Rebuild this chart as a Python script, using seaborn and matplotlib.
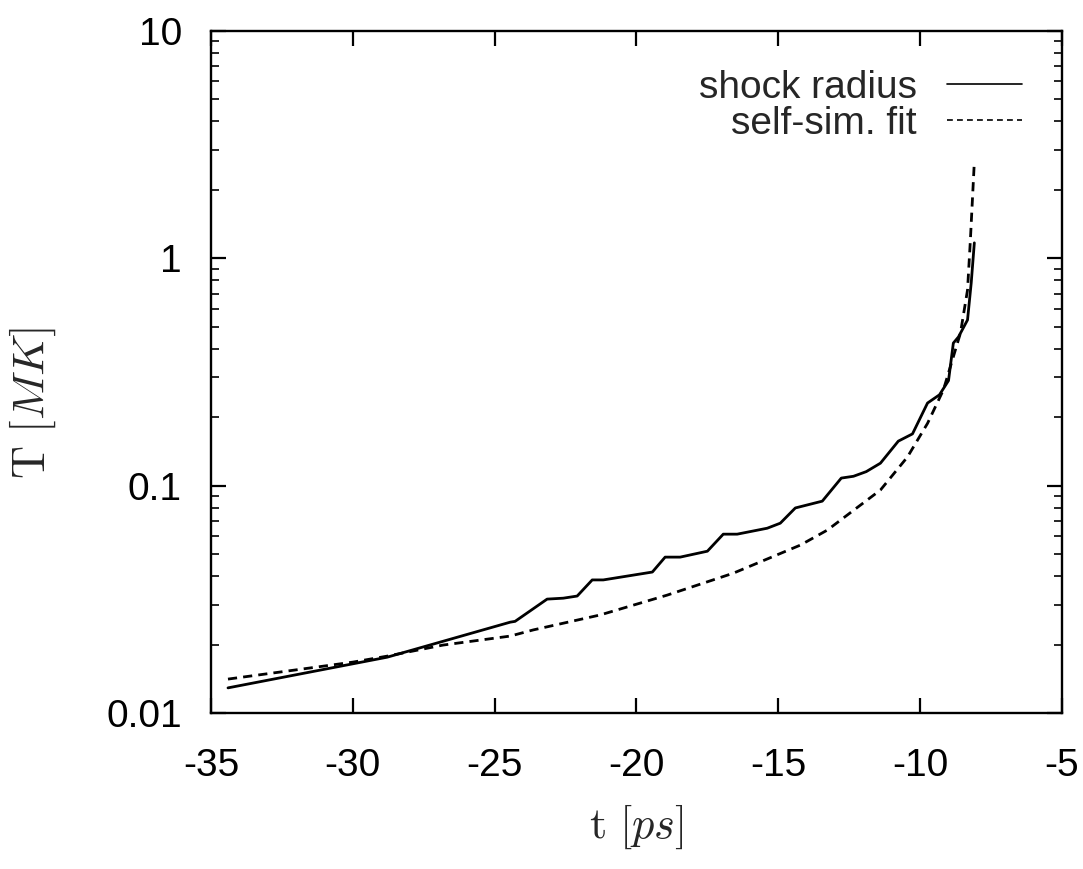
import matplotlib
matplotlib.use("Agg")
import matplotlib.pyplot as plt
import seaborn as sns
import pandas as pd
from matplotlib.ticker import LogLocator, NullFormatter, NullLocator

# Simulated shock temperature, t [ps] vs T [MK]
shock_t = [-34.40, -28.79, -24.45, -24.28, -23.15, -22.58, -22.09, -21.56, -21.17,
           -19.44, -18.99, -18.46, -17.50, -16.94, -16.45, -15.39, -14.93, -14.40,
           -13.45, -12.78, -12.35, -11.90, -11.40, -10.77, -10.27, -9.74, -9.32,
           -9.00, -8.83, -8.65, -8.33, -8.20, -8.09]
shock_T = [0.0129, 0.0176, 0.0251, 0.0253, 0.0317, 0.0320, 0.0327, 0.0385, 0.0385,
           0.0417, 0.0485, 0.0485, 0.0515, 0.0612, 0.0612, 0.0650, 0.0684, 0.0798,
           0.0855, 0.1080, 0.1100, 0.1153, 0.1256, 0.1570, 0.1690, 0.2310, 0.2510,
           0.2900, 0.4240, 0.4510, 0.5360, 0.7800, 1.1700]

# Self-similar fit
fit_t = [-34.40, -31.51, -29.99, -28.79, -26.82, -24.45, -23.64, -21.28, -18.92,
         -16.59, -14.22, -13.27, -11.40, -10.45, -9.74, -9.18, -8.58, -8.33,
         -8.23, -8.09]
fit_T = [0.0141, 0.01578, 0.01675, 0.01779, 0.0199, 0.0218, 0.0232, 0.0270, 0.0330,
         0.0412, 0.0548, 0.0638, 0.0957, 0.1336, 0.188, 0.264, 0.469, 0.726,
         1.20, 2.66]

x_ticks = [-35, -30, -25, -20, -15, -10, -5]
y_ticks = [0.01, 0.1, 1, 10]
y_tick_labels = ["0.01", "0.1", "1", "10"]

sns.set_style("ticks")
plt.rcParams["font.family"] = ["Liberation Sans", "DejaVu Sans"]
plt.rcParams["mathtext.fontset"] = "cm"

fig = plt.figure(figsize=(10.83, 8.69), dpi=100)
ax = fig.add_axes([0.1948, 0.1795, 0.7858, 0.7848])

shock = pd.DataFrame({"t": shock_t, "T": shock_T})
fit = pd.DataFrame({"t": fit_t, "T": fit_T})

sns.lineplot(data=shock, x="t", y="T", ax=ax, color="black", linewidth=2.0,
             sort=False, estimator=None, label="shock radius")
sns.lineplot(data=fit, x="t", y="T", ax=ax, color="black", linewidth=2.0,
             sort=False, estimator=None, label="self-sim. fit")
ax.lines[1].set_dashes((3.3, 2.2))

ax.set_yscale("log")
ax.set_xlim(-35, -5)
ax.set_ylim(0.01, 10)
ax.set_xticks(x_ticks)
ax.set_xticklabels([str(v) for v in x_ticks])
ax.set_yticks(y_ticks)
ax.set_yticklabels(y_tick_labels)
ax.yaxis.set_minor_locator(LogLocator(base=10, subs=range(2, 10)))
ax.yaxis.set_minor_formatter(NullFormatter())
ax.xaxis.set_minor_locator(NullLocator())

for s in ax.spines.values():
    s.set_visible(True)
    s.set_linewidth(1.7)
    s.set_color("black")

ax.tick_params(axis="both", which="major", direction="in", length=11, width=1.6,
               top=True, right=True, labelsize=28, colors="black")
ax.tick_params(axis="y", which="major", pad=21)
ax.tick_params(axis="x", which="major", pad=25)
ax.tick_params(axis="y", which="minor", direction="in", length=6, width=1.4,
               left=True, right=True)

ax.set_xlabel(r"$\mathrm{t}\ [ps]$", fontsize=32)
ax.xaxis.set_label_coords(0.5, -0.132)
ax.set_ylabel(r"$\mathrm{T}\ [MK]$", fontsize=33)
ax.yaxis.set_label_coords(-0.18, 0.455)

leg = ax.legend(loc="upper right", bbox_to_anchor=(0.953, 0.943), frameon=False,
                markerfirst=False, fontsize=28, handlelength=1.93,
                handletextpad=0.77, labelspacing=0.0, borderpad=0,
                borderaxespad=0)
for h in leg.get_lines():
    h.set_linewidth(1.2)
leg.get_lines()[1].set_dashes((3.5, 2.5))

fig.savefig("out.png", dpi=100)
